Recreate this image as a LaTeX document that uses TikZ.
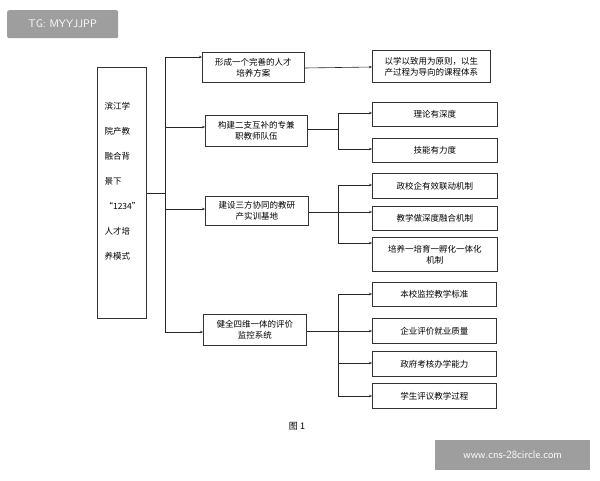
\documentclass[tikz,border=0pt]{standalone}
\usepackage{fontspec}
\newfontfamily\cjk{Noto Sans CJK SC}
\usetikzlibrary{arrows.meta}
\begin{document}
\begin{tikzpicture}[x=1pt,y=-1pt,
  bx/.style={draw=black!80,line width=0.6pt,inner sep=1pt,font=\cjk\fontsize{8.5}{11}\selectfont,align=center,anchor=north west},
  ln/.style={draw=black!85,line width=0.6pt},
  ar/.style={ln,-{Stealth[length=3pt,width=2.5pt]}},
  wm/.style={fill=black!38,text=white,font=\fontsize{11}{13}\selectfont\sffamily,inner sep=0pt}]
\useasboundingbox (0,0) rectangle (600,480);
\fill[white] (0,0) rectangle (600,480);
% left box
\node[bx,minimum width=49pt,minimum height=251pt] (L) at (97,67) {};
\node[font=\cjk\fontsize{8.5}{25}\selectfont,align=left,anchor=north west] (Lt) at (101,99)
 {滨江学\\院产教\\融合背\\景下\\\hspace*{0pt}“1234”\\人才培\\养模式};
% middle boxes
\node[bx,minimum width=102pt,minimum height=30pt] (m1) at (202,52) {形成一个完善的人才\\培养方案};
\node[bx,minimum width=102pt,minimum height=31pt] (m2) at (205,115) {构建二支互补的专兼\\职教师队伍};
\node[bx,minimum width=103pt,minimum height=29pt] (m3) at (205,196) {建设三方协同的教研\\产实训基地};
\node[bx,minimum width=103pt,minimum height=31pt] (m4) at (203,314) {健全四维一体的评价\\监控系统};
% right boxes
\node[bx,minimum width=118pt,minimum height=32pt] (r1) at (372,50) {以学以致用为原则，以生\\产过程为导向的课程体系};
\node[bx,minimum width=125pt,minimum height=24pt] (r2a) at (372,102) {理论有深度};
\node[bx,minimum width=125pt,minimum height=24pt] (r2b) at (372,138) {技能有力度};
\node[bx,minimum width=125pt,minimum height=25pt] (r3a) at (372,173) {政校企有效联动机制};
\node[bx,minimum width=125pt,minimum height=24pt] (r3b) at (372,206) {教学做深度融合机制};
\node[bx,minimum width=125pt,minimum height=34pt] (r3c) at (372,237) {培养一培育一孵化一体化\\机制};
\node[bx,minimum width=124pt,minimum height=24pt] (r4a) at (372,282) {本校监控教学标准};
\node[bx,minimum width=124pt,minimum height=25pt] (r4b) at (372,318) {企业评价就业质量};
\node[bx,minimum width=124pt,minimum height=25pt] (r4c) at (372,351) {政府考核办学能力};
\node[bx,minimum width=124pt,minimum height=25pt] (r4d) at (372,383) {学生评议教学过程};
\node[font=\cjk\fontsize{9}{11}\selectfont] (cap) at (297,426) {图 1};
% trunk
\coordinate (t0) at (165,57);
\coordinate (t1) at (165,332);
\draw[ln] (L.east |- 0,193) -- (165,193);
\draw[ln] (t0) -- (t1);
\draw[ar] (t0) -- (m1.west |- t0);
\draw[ar] (165,127) -- (m2.west |- 0,127);
\draw[ar] (165,209) -- (m3.west |- 0,209);
\draw[ar] (t1) -- (m4.west |- t1);
% level 2
\draw[ar] (m1.east |- 0,68) -- (r1.west |- 0,67);
\draw[ln] (m2.east |- 0,129) -- (338,129);
\draw[ln] (338,113) -- (338,149);
\draw[ar] (338,113) -- (r2a.west |- 0,113);
\draw[ar] (338,149) -- (r2b.west |- 0,149);
\draw[ln] (m3.east |- 0,212) -- (338,212);
\draw[ln] (338,185) -- (338,243);
\draw[ar] (338,185) -- (r3a.west |- 0,185);
\draw[ar] (338,212) -- (r3b.west |- 0,212);
\draw[ar] (338,243) -- (r3c.west |- 0,243);
\draw[ln] (m4.east |- 0,331) -- (338,331);
\draw[ln] (338,294) -- (338,396);
\draw[ar] (338,294) -- (r4a.west |- 0,294);
\draw[ar] (338,331) -- (r4b.west |- 0,331);
\draw[ar] (338,363) -- (r4c.west |- 0,363);
\draw[ar] (338,396) -- (r4d.west |- 0,396);
% watermarks
\node[wm,minimum width=111pt,minimum height=28pt,rounded corners=2pt,anchor=north west] (w1) at (7,10) {TG: MYYJJPP};
\node[wm,minimum width=155pt,minimum height=30pt,anchor=north west] (w2) at (435,440) {www.cns-28circle.com};
\end{tikzpicture}
\end{document}
